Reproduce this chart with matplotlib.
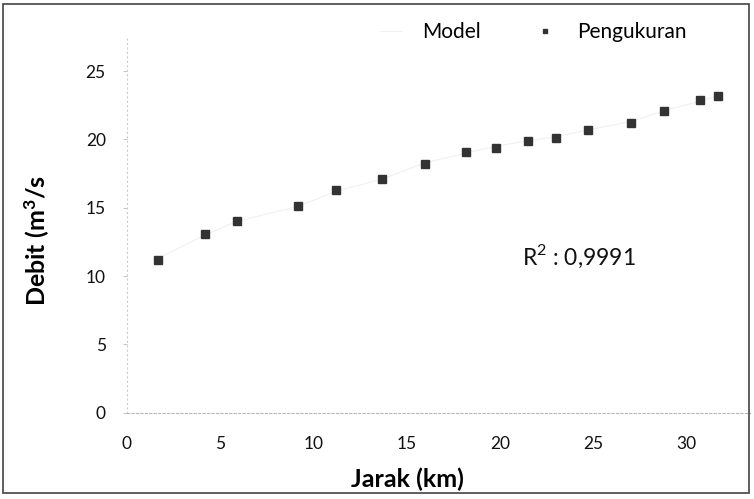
import matplotlib
matplotlib.use("Agg")
import matplotlib.pyplot as plt
from matplotlib.patches import Rectangle

# distance along the river (km) and discharge (m3/s)
jarak = [1.7, 4.2, 5.9, 9.2, 11.2, 13.7, 16.0, 18.2, 19.8, 21.5, 23.0, 24.7, 27.0, 28.8, 30.7, 31.7]
pengukuran = [11.2, 13.1, 14.0, 15.1, 16.3, 17.1, 18.2, 19.1, 19.4, 19.9, 20.1, 20.7, 21.2, 22.1, 22.9, 23.2]
model = [11.3, 13.0, 14.0, 15.1, 16.2, 17.1, 18.3, 19.0, 19.5, 19.9, 20.2, 20.7, 21.3, 22.1, 22.8, 23.2]

x_ticks = [0, 5, 10, 15, 20, 25, 30]
y_ticks = [0, 5, 10, 15, 20, 25]
r2_label = "R$^2$ : 0,9991"

plt.rcParams["font.family"] = ["Lato", "DejaVu Sans"]
plt.rcParams["mathtext.fontset"] = "custom"
plt.rcParams["mathtext.rm"] = "Lato"
plt.rcParams["mathtext.bf"] = "Lato:bold"

fig = plt.figure(figsize=(7.54, 4.99), dpi=100)
# plot area: x=0 at 127px, y=0 at 412px
ax = fig.add_axes([0.168, 0.173, 0.827, 0.753])

ax.plot(jarak, model, color="#f0f0f0", lw=0.8, label="Model", zorder=1)
ax.plot(jarak, pengukuran, ls="none", marker="s", ms=5.5, color="#333333",
        mec="#333333", label="Pengukuran", zorder=2)

ax.set_xlim(0, 33.4)
ax.set_ylim(0, 27.5)
ax.set_xticks(x_ticks)
ax.set_yticks(y_ticks)

for side in ["top", "right"]:
    ax.spines[side].set_visible(False)
ax.spines["bottom"].set_color("#b8b8b8")
ax.spines["bottom"].set_linestyle((0, (2, 2)))
ax.spines["bottom"].set_linewidth(0.8)
ax.spines["left"].set_color("#cccccc")
ax.spines["left"].set_linestyle((0, (1, 3)))
ax.spines["left"].set_linewidth(0.8)

ax.tick_params(axis="x", length=0, pad=17, labelsize=12.5, colors="#111111")
ax.tick_params(axis="y", length=3, width=0.6, color="#bbbbbb", pad=12,
               labelsize=12.5, labelcolor="#111111")

ax.set_xlabel("Jarak (km)", fontsize=18, fontweight="bold")
ax.xaxis.set_label_coords((408 - 127) / (0.827 * 754), -0.145)
ax.set_ylabel("Debit (m$\\mathbf{^3}$/s", fontsize=18, fontweight="bold")
ax.yaxis.set_label_coords(-(127 - 52) / (0.827 * 754), (412 - 240) / (0.753 * 499))

ax.text(21.2, 11.45, r2_label, fontsize=16.5, va="center", ha="left", color="#111111")

ax.legend(loc="center right", bbox_to_anchor=(0.935, 0.936), bbox_transform=fig.transFigure,
          ncol=2, frameon=False, fontsize=15, handlelength=1.0, columnspacing=2.6,
          handletextpad=1.0, markerscale=0.6)

fig.add_artist(Rectangle((0.004, 0.012), 0.99, 0.98, transform=fig.transFigure,
                         fill=False, edgecolor="#444444", lw=1.2))

fig.savefig("out.png", dpi=100)
